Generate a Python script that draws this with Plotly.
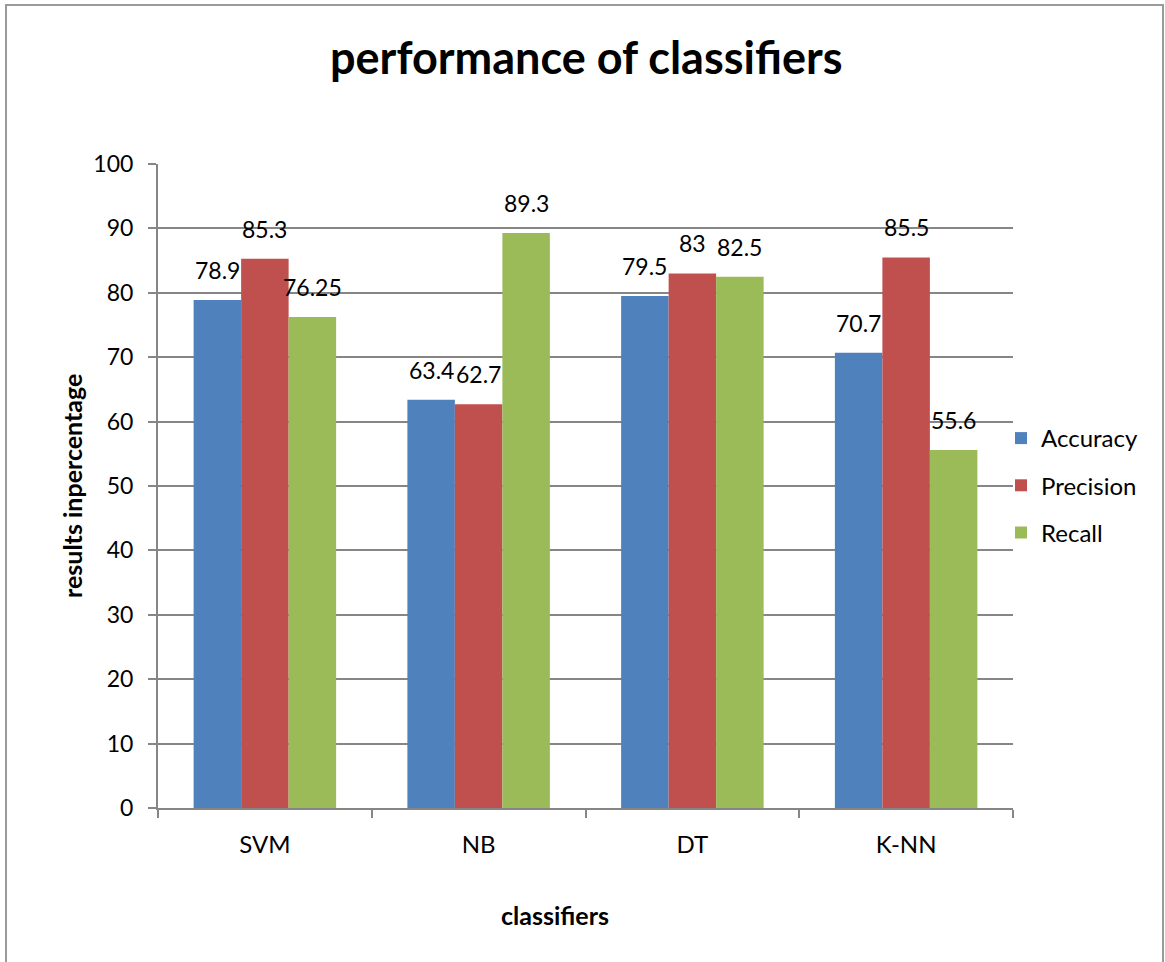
import plotly.graph_objects as go

# Classifier results (percent)
classifiers = ["SVM", "NB", "DT", "K-NN"]
accuracy = [78.9, 63.4, 79.5, 70.7]
precision = [85.3, 62.7, 83, 85.5]
recall = [76.25, 89.3, 82.5, 55.6]

series = [
    ("Accuracy", accuracy, "#4F81BD"),
    ("Precision", precision, "#C0504D"),
    ("Recall", recall, "#9BBB59"),
]

FONT = "Lato"

W, H = 1165, 962
L, R, T, B = 158, 152, 164, 154
PLOT_W = W - L - R
BARGAP = 1 / 3
BAR_PX = PLOT_W / len(classifiers) * (1 - BARGAP) / len(series)


def px_x(x):
    return (x - L) / PLOT_W


def px_y(y):
    return (H - B - y) / (H - T - B)


fig = go.Figure()
annotations = []
for i, (name, vals, color) in enumerate(series):
    fig.add_trace(go.Bar(
        name=name,
        legendgroup=name,
        x=classifiers,
        y=vals,
        marker=dict(color=color, line=dict(width=0)),
    ))
    # value labels sitting above each bar
    for cat, v in zip(classifiers, vals):
        annotations.append(dict(
            x=cat, y=v, xref="x", yref="y",
            text=f"{v:g}", showarrow=False,
            xanchor="center", yanchor="bottom",
            xshift=(i - (len(series) - 1) / 2) * BAR_PX, yshift=14,
            font=dict(family=FONT, size=23, color="black"),
        ))

annotations += [
    dict(text="<b>performance of classifiers</b>", xref="paper", yref="paper",
         x=px_x(586), y=px_y(57), xanchor="center", yanchor="middle",
         showarrow=False, font=dict(family=FONT, size=45)),
    dict(text="<b>classifiers</b>", xref="paper", yref="paper",
         x=px_x(555), y=px_y(915), xanchor="center", yanchor="middle",
         showarrow=False, font=dict(family=FONT, size=25)),
    dict(text="<b>results inpercentage</b>", xref="paper", yref="paper",
         x=px_x(72), y=px_y(486), xanchor="center", yanchor="middle",
         textangle=-90, showarrow=False, font=dict(family=FONT, size=25)),
]

fig.update_layout(
    width=W,
    height=H,
    margin=dict(l=L, r=R, t=T, b=B, pad=0),
    paper_bgcolor="white",
    plot_bgcolor="white",
    barmode="group",
    bargap=BARGAP,
    bargroupgap=0,
    font=dict(family=FONT, size=22, color="black"),
    showlegend=True,
    legend=dict(
        x=px_x(1001), y=px_y(416), xanchor="left", yanchor="top",
        font=dict(family=FONT, size=24, color="black"),
        itemsizing="constant",
        tracegroupgap=13,
        bgcolor="rgba(0,0,0,0)",
    ),
    xaxis=dict(
        showgrid=False,
        showline=True, linecolor="#868686", linewidth=2,
        ticks="outside", tickson="boundaries", ticklen=8, tickcolor="#868686", tickwidth=2,
        tickfont=dict(family=FONT, size=24),
        ticklabelstandoff=14,
        zeroline=False,
    ),
    yaxis=dict(
        range=[0, 100],
        dtick=10,
        showgrid=True, gridcolor="#868686", gridwidth=2,
        showline=True, linecolor="#868686", linewidth=2,
        ticks="outside", ticklen=8, tickcolor="#868686", tickwidth=2,
        tickfont=dict(family=FONT, size=23),
        ticklabelstandoff=10,
        zeroline=False,
    ),
    annotations=annotations,
    shapes=[
        dict(type="rect", xref="paper", yref="paper",
             x0=px_x(6), x1=px_x(1163), y0=px_y(5), y1=px_y(975),
             line=dict(color="#9A9A9A", width=2), fillcolor="rgba(0,0,0,0)",
             layer="below"),
    ],
)

fig.write_html("out.html")
